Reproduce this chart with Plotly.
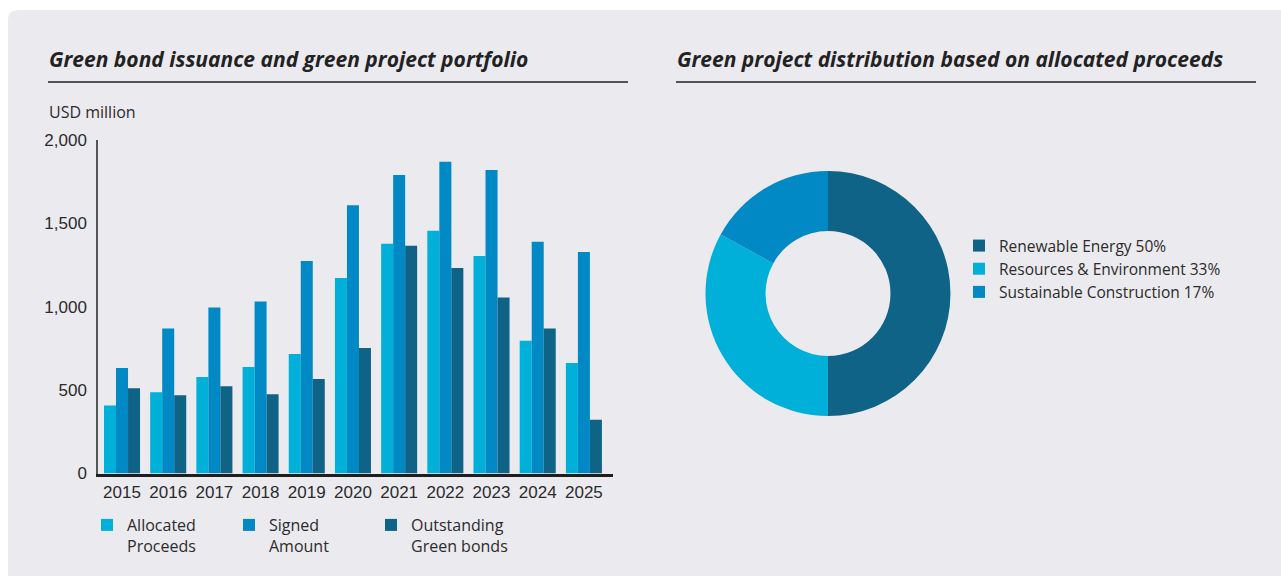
import plotly.graph_objects as go

years = ["2015", "2016", "2017", "2018", "2019", "2020", "2021", "2022", "2023", "2024", "2025"]
allocated = [408, 487, 578, 638, 717, 1172, 1378, 1456, 1305, 796, 663]
signed = [632, 869, 996, 1032, 1275, 1608, 1790, 1869, 1820, 1390, 1329]
outstanding = [511, 469, 523, 475, 566, 753, 1366, 1232, 1056, 869, 323]
bar_names = ["Allocated<br>Proceeds", "Signed<br>Amount", "Outstanding<br>Green bonds"]

pie_labels = ["Renewable Energy 50%", "Resources & Environment 33%", "Sustainable Construction 17%"]
pie_values = [50, 33, 17]

C_ALLOC = "#00B0D9"
C_SIGN = "#0089C4"
C_OUT = "#0E6386"
BG = "#EBEAEF"
TXT = "#2b2b2b"
W, H = 1281, 576

def px_x(p):
    return p / W

def px_y(p):
    return 1 - p / H

fig = go.Figure()
for name, vals, col in zip(bar_names, [allocated, signed, outstanding], [C_ALLOC, C_SIGN, C_OUT]):
    fig.add_trace(go.Bar(x=years, y=vals, name=name, marker=dict(color=col, line=dict(width=0)),
                         legend="legend", hoverinfo="x+y"))

fig.add_trace(go.Pie(labels=pie_labels, values=pie_values, hole=0.51, sort=False,
                     direction="clockwise", rotation=0,
                     marker=dict(colors=[C_OUT, C_ALLOC, C_SIGN], line=dict(width=0)),
                     textinfo="none", legend="legend2",
                     domain=dict(x=[px_x(705.5), px_x(950.5)], y=[px_y(416), px_y(171)])))

font_main = "Liberation Sans, Arial, sans-serif"
font_text = "Open Sans, Lato, sans-serif"

fig.update_layout(
    width=W, height=H,
    margin=dict(l=0, r=0, t=0, b=0, pad=0, autoexpand=False),
    paper_bgcolor="white",
    plot_bgcolor=BG,
    barmode="group",
    bargap=0.22,
    bargroupgap=0.0,
    showlegend=True,
    font=dict(family=font_main, color=TXT, size=17),
    xaxis=dict(domain=[px_x(98), px_x(613)], range=[-0.52, 10.63], type="category",
               showline=True, linecolor="#1e1e1e", linewidth=3, ticks="", automargin=False,
               showgrid=False, zeroline=False,
               tickfont=dict(family=font_main, size=17, color=TXT), ticklabelstandoff=1),
    yaxis=dict(domain=[px_y(473.5), px_y(140)], range=[0, 2000], tickvals=[0, 500, 1000, 1500, 2000],
               tickformat=",", showline=True, linecolor="#555555", linewidth=1.5, automargin=False,
               showgrid=False, zeroline=False, ticks="",
               tickfont=dict(family=font_main, size=17, color=TXT), ticklabelstandoff=6),
    legend=dict(orientation="h", x=px_x(87), y=px_y(508), xanchor="left", yanchor="top",
                bgcolor="rgba(0,0,0,0)", font=dict(family=font_text, size=16, color=TXT),
                valign="top", itemwidth=30, traceorder="normal", entrywidth=97,
                itemclick=False, itemdoubleclick=False),
    legend2=dict(orientation="v", x=px_x(959), y=px_y(229), xanchor="left", yanchor="top",
                 bgcolor="rgba(0,0,0,0)", font=dict(family=font_text, size=15.5, color=TXT),
                 traceorder="normal", tracegroupgap=0, itemwidth=30,
                 itemclick=False, itemdoubleclick=False),
    shapes=[
        dict(type="path", xref="paper", yref="paper", layer="below",
             path=f"M {px_x(8)},{px_y(576)} L {px_x(8)},{px_y(20)} Q {px_x(8)},{px_y(10)} {px_x(18)},{px_y(10)} L 1,{px_y(10)} L 1,{px_y(576)} Z",
             fillcolor=BG, line=dict(width=0)),
        dict(type="line", xref="paper", yref="paper", x0=px_x(48), x1=px_x(628), y0=px_y(82), y1=px_y(82),
             line=dict(color="#222222", width=1.5)),
        dict(type="line", xref="paper", yref="paper", x0=px_x(676), x1=px_x(1256), y0=px_y(82), y1=px_y(82),
             line=dict(color="#222222", width=1.5)),
    ],
    annotations=[
        dict(text="<b><i>Green bond issuance and green project portfolio</i></b>", xref="paper", yref="paper",
             x=px_x(47), y=px_y(59), xanchor="left", yanchor="middle", showarrow=False,
             font=dict(family=font_text, size=21, color="#222222")),
        dict(text="<b><i>Green project distribution based on allocated proceeds</i></b>", xref="paper", yref="paper",
             x=px_x(675), y=px_y(59), xanchor="left", yanchor="middle", showarrow=False,
             font=dict(family=font_text, size=21, color="#222222")),
        dict(text="USD million", xref="paper", yref="paper",
             x=px_x(47), y=px_y(112), xanchor="left", yanchor="middle", showarrow=False,
             font=dict(family=font_text, size=16, color=TXT)),
    ],
)

fig.write_html("out.html")
